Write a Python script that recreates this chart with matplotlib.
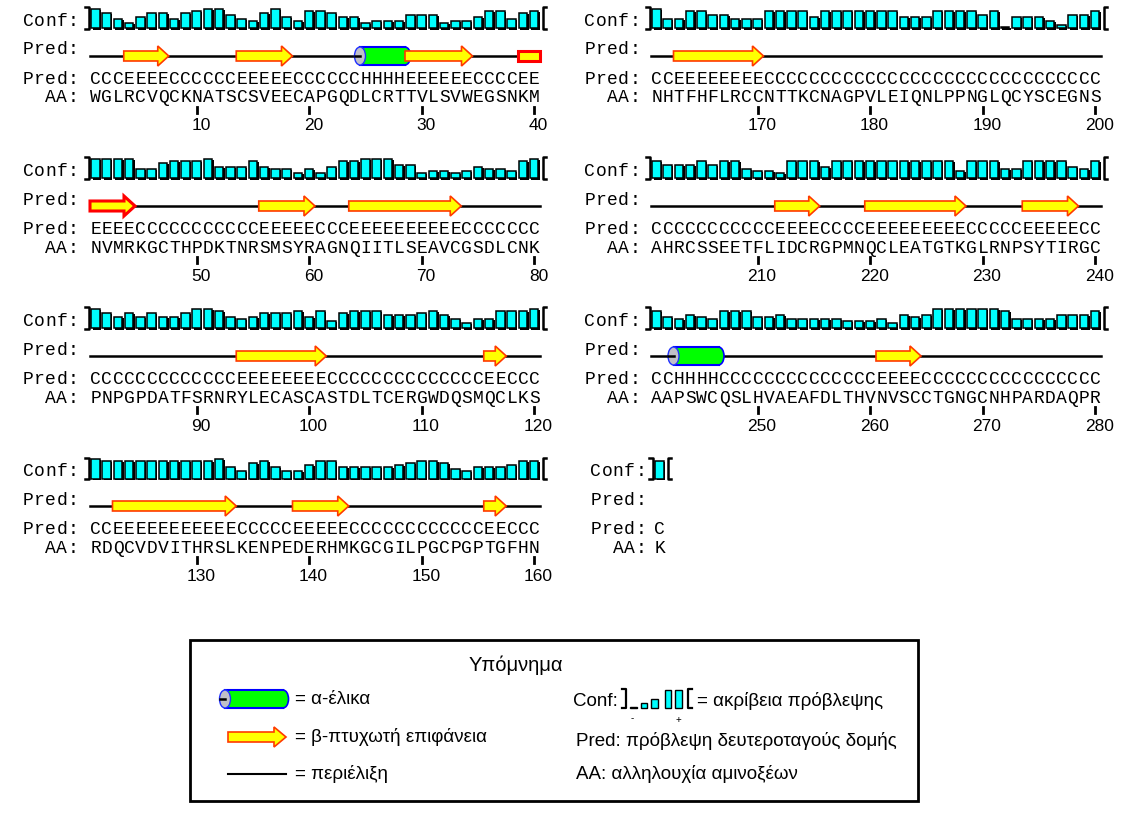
import matplotlib
matplotlib.use("Agg")
import matplotlib.pyplot as plt
from matplotlib.patches import Rectangle, Ellipse, Polygon

# sequence rows (40 residues per row, last row has 1)
aa_rows = [
    "WGLRCVQCKNATSCSVEECAPGQDLCRTTVLSVWEGSNKM",
    "NVMRKGCTHPDKTNRSMSYRAGNQIITLSEAVCGSDLCNK",
    "PNPGPDATFSRNRYLECASCASTDLTCERGWDQSMQCLKS",
    "RDQCVDVITHRSLKENPEDERHMKGCGILPGCPGPTGFHN",
    "NHTFHFLRCCNTTKCNAGPVLEIQNLPPNGLQCYSCEGNS",
    "AHRCSSEETFLIDCRGPMNQCLEATGTKGLRNPSYTIRGC",
    "AAPSWCQSLHVAEAFDLTHVNVSCCTGNGCNHPARDAQPR",
    "K",
]

pred_rows = [
    "CCCEEEECCCCCCEEEEECCCCCCHHHHEEEEEECCCCEE",
    "EEEECCCCCCCCCCCEEEEECCCEEEEEEEEEECCCCCCC",
    "CCCCCCCCCCCCCEEEEEEEECCCCCCCCCCCCCCEECCC",
    "CCEEEEEEEEEEECCCCCEEEEECCCCCCCCCCCCEECCC",
    "CCEEEEEEEECCCCCCCCCCCCCCCCCCCCCCCCCCCCCC",
    "CCCCCCCCCCCEEEECCCCEEEEEEEEECCCCCEEEEECC",
    "CCHHHHCCCCCCCCCCCCCCEEEECCCCCCCCCCCCCCCC",
    "C",
]

# confidence 0-9 per residue
conf_rows = [
    [9, 7, 4, 2, 5, 7, 7, 4, 7, 8, 9, 9, 6, 4, 3, 7, 9, 5, 3, 8,
     8, 7, 5, 5, 2, 3, 3, 3, 6, 6, 6, 2, 3, 3, 5, 8, 8, 4, 7, 8],
    [9, 9, 9, 9, 4, 4, 7, 8, 8, 8, 9, 5, 5, 5, 8, 5, 4, 4, 2, 4,
     2, 5, 8, 8, 9, 9, 9, 6, 6, 2, 3, 3, 2, 3, 5, 4, 4, 3, 8, 9],
    [9, 7, 5, 7, 5, 7, 5, 5, 7, 9, 9, 8, 5, 4, 5, 7, 7, 7, 8, 5,
     8, 3, 7, 8, 8, 8, 6, 6, 6, 7, 8, 6, 4, 2, 4, 4, 8, 8, 8, 9],
    [9, 8, 8, 8, 8, 8, 8, 8, 8, 8, 8, 9, 5, 3, 7, 8, 5, 3, 3, 6,
     8, 8, 5, 5, 5, 5, 5, 6, 7, 8, 8, 7, 4, 3, 5, 5, 5, 6, 8, 8],
    [9, 4, 4, 8, 8, 6, 6, 4, 4, 4, 8, 8, 8, 8, 5, 8, 8, 8, 8, 8,
     8, 8, 5, 5, 5, 8, 8, 8, 8, 6, 8, 0, 5, 5, 5, 3, 1, 6, 6, 8],
    [8, 6, 6, 6, 8, 6, 8, 8, 4, 3, 3, 2, 8, 8, 8, 5, 8, 8, 8, 8,
     8, 8, 8, 8, 8, 8, 8, 3, 8, 8, 8, 4, 4, 8, 8, 8, 8, 5, 4, 8],
    [8, 5, 4, 6, 5, 4, 8, 8, 8, 5, 5, 6, 4, 4, 4, 4, 4, 3, 3, 3,
     4, 2, 6, 5, 6, 9, 9, 9, 9, 9, 9, 8, 4, 4, 4, 4, 6, 6, 6, 8],
    [8],
]

row_start = [1, 41, 81, 121, 161, 201, 241, 281]

legend_title = "Υπόμνημα"
legend_left = ["= α-έλικα", "= β-πτυχωτή επιφάνεια", "= περιέλιξη"]
legend_right = ["= ακρίβεια πρόβλεψης", "Pred: πρόβλεψη δευτεροταγούς δομής",
                "AA: αλληλουχία αμινοξέων"]
legend_conf = [0, 2, 4, 9, 9]

CW = 11.25
MONO = "Liberation Mono"
SANS = "Liberation Sans"
YELLOW = "#ffff00"
ARROW_EDGE = "#ff3a00"
CYAN = "#00ffff"

fig = plt.figure(figsize=(11.46, 8.22), dpi=100)
ax = fig.add_axes([0, 0, 1, 1])
ax.set_xlim(0, 1146)
ax.set_ylim(822, 0)
ax.axis("off")


def put_chars(x, y, s, size=13, family=MONO, color="black"):
    for i, ch in enumerate(s):
        ax.text(x + (i + 0.5) * CW, y, ch, ha="center", va="center",
                fontsize=size, family=family, color=color)


def draw_arrow(xs, xe, y, head=True, thick=False, hl=11, sh=5, hh=10):
    if head:
        pts = [(xs, y - sh), (xe - hl, y - sh), (xe - hl, y - hh), (xe, y),
               (xe - hl, y + hh), (xe - hl, y + sh), (xs, y + sh)]
    else:
        pts = [(xs, y - sh), (xe, y - sh), (xe, y + sh), (xs, y + sh)]
    lw = 2.2 if thick else 1.2
    ec = "#ff0000" if thick else ARROW_EDGE
    ax.add_patch(Polygon(pts, closed=True, facecolor=YELLOW, edgecolor=ec,
                         lw=lw, zorder=5, joinstyle="miter"))


def draw_helix(xs, xe, y, h=18, capw=11):
    ax.add_patch(Ellipse((xe, y), capw, h, facecolor="#00ff00", edgecolor="#0000ff",
                         lw=1.2, zorder=4))
    ax.add_patch(Rectangle((xs, y - h / 2), xe - xs, h, facecolor="#00ff00",
                           edgecolor="none", zorder=5))
    ax.plot([xs, xe], [y - h / 2, y - h / 2], color="#0000ff", lw=1.5, zorder=6)
    ax.plot([xs, xe], [y + h / 2, y + h / 2], color="#0000ff", lw=1.5, zorder=6)
    ax.add_patch(Ellipse((xs, y), capw, h, facecolor="#c0c0c8", edgecolor="#2030ff",
                         lw=1.0, zorder=7))
    ax.plot([xs - capw / 2, xs], [y, y], color="black", lw=1.8, zorder=8)


def draw_conf(x0, base, values, bw=8.5):
    top = base - 21
    ax.plot([x0 - 5, x0 - 1.5, x0 - 1.5, x0 - 5], [top, top, base + 0.5, base + 0.5],
            color="black", lw=1.8, zorder=3)
    for i, c in enumerate(values):
        h = 1.5 + c * 2.05
        bx = x0 + i * CW + 1.2
        ax.add_patch(Rectangle((bx + 1.3, base - h + 1.3), bw, h, facecolor="black",
                               edgecolor="none", zorder=3))
        ax.add_patch(Rectangle((bx, base - h), bw, h, facecolor=CYAN,
                               edgecolor="black", lw=1.1, zorder=4))
    xe = x0 + len(values) * CW
    ax.plot([xe + 6, xe + 2.5, xe + 2.5, xe + 6], [top, top, base + 0.5, base + 0.5],
            color="black", lw=1.8, zorder=3)


for r in range(len(aa_rows)):
    col, blk = divmod(r, 4)
    top = blk * 150
    x0 = 90 if col == 0 else 651
    lx = 22.5 if col == 0 else 584
    if r == 7:
        x0, lx = 654, 590
    aa, pred, conf = aa_rows[r], pred_rows[r], conf_rows[r]
    n = len(aa)

    put_chars(lx, top + 21, "Conf:")
    put_chars(lx, top + 50, "Pred:")
    put_chars(lx, top + 79, "Pred:")
    put_chars(lx, top + 98, "  AA:")
    put_chars(x0, top + 79, pred)
    put_chars(x0, top + 98, aa)

    draw_conf(x0, top + 28.5, conf)

    ly = top + 56
    if n > 1:
        ax.plot([x0, x0 + n * CW], [ly, ly], color="black", lw=1.8, zorder=2)
        # runs of secondary structure
        i = 0
        while i < n:
            j = i
            while j + 1 < n and pred[j + 1] == pred[i]:
                j += 1
            xs, xe = x0 + i * CW, x0 + (j + 1) * CW
            if pred[i] == "E":
                cont_next = (j == n - 1 and r + 1 < len(pred_rows)
                             and pred_rows[r + 1][0] == "E")
                cont_prev = (i == 0 and r > 0 and pred_rows[r - 1][-1] == "E")
                draw_arrow(xs, xe, ly, head=not cont_next, thick=cont_next or cont_prev)
            elif pred[i] == "H":
                draw_helix(xs, xe, ly)
            i = j + 1

    # ticks every 10 residues
    for i in range(n):
        num = row_start[r] + i
        if num % 10 == 0:
            tx = x0 + (i + 0.5) * CW
            ax.plot([tx, tx], [top + 107, top + 113], color="black", lw=2, zorder=3)
            ax.text(tx + 4, top + 126, str(num), ha="center", va="center",
                    fontsize=12.5, family=SANS)

# legend box
ax.add_patch(Rectangle((190, 640), 728, 161, facecolor="white", edgecolor="black",
                       lw=2, zorder=1))
ax.text(516, 665, legend_title, ha="center", va="center", fontsize=14.5, family=SANS)
draw_helix(225, 283, 699, h=18, capw=11)
draw_arrow(228, 286, 737, head=True, hl=12)
ax.plot([228, 286], [774, 774], color="black", lw=1.5)
for k, t in enumerate(legend_left):
    ax.text(295, 699 + k * 37.5, t, ha="left", va="center", fontsize=13.5, family=SANS)

ax.text(573, 701, "Conf:", ha="left", va="center", fontsize=13.5, family=SANS)
base = 708
ax.plot([622, 626, 626, 622], [base - 19, base - 19, base, base], color="black", lw=1.6)
for k, (off, c) in enumerate(zip([0, 1, 2, 3.3, 4.3], legend_conf)):
    h = 1.2 + c * 1.9
    bx = 630 + off * 10.5
    ax.add_patch(Rectangle((bx + 1.2, base - h + 1.2), 6.5, h, facecolor="black",
                           edgecolor="none", zorder=3))
    ax.add_patch(Rectangle((bx, base - h), 6.5, h, facecolor=CYAN, edgecolor="black",
                           lw=1.0, zorder=4))
ax.plot([692, 688, 688, 692], [base - 19, base - 19, base, base], color="black", lw=1.6)
ax.text(632, 718, "-", ha="center", va="center", fontsize=7, family=SANS)
ax.text(678, 720, "+", ha="center", va="center", fontsize=7, family=SANS)
ax.text(697, 701, legend_right[0], ha="left", va="center", fontsize=13.5, family=SANS)
ax.text(576, 741, legend_right[1], ha="left", va="center", fontsize=13.5, family=SANS)
ax.text(576, 774, legend_right[2], ha="left", va="center", fontsize=13.5, family=SANS)

fig.savefig("out.png", dpi=100, facecolor="white")
